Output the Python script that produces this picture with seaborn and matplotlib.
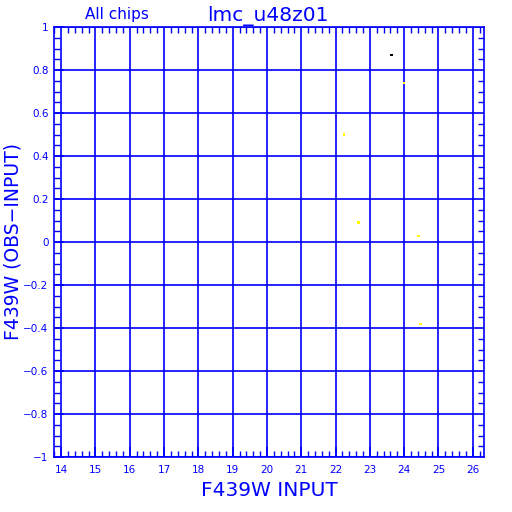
import matplotlib
matplotlib.use("Agg")
import matplotlib.pyplot as plt
import seaborn as sns
import pandas as pd
import numpy as np

# data
x_input = [23.64, 24.00, 22.25, 22.68, 24.41, 24.47]
y_diff = [0.870, 0.740, 0.499, 0.090, 0.028, -0.381]
point_group = ["black", "yellow", "yellow", "yellow", "yellow", "yellow"]

x_ticks = [14, 15, 16, 17, 18, 19, 20, 21, 22, 23, 24, 25, 26]
y_ticks = [-1, -0.8, -0.6, -0.4, -0.2, 0, 0.2, 0.4, 0.6, 0.8, 1]
y_tick_labels = ["\u22121", "\u22120.8", "\u22120.6", "\u22120.4", "\u22120.2", "0",
                 "0.2", "0.4", "0.6", "0.8", "1"]

df = pd.DataFrame({"x": x_input, "y": y_diff, "g": point_group})

sns.set_style("white")
plt.rcParams['font.family'] = ['DejaVu Sans']
blue = "#0000ff"

fig = plt.figure(figsize=(5.12, 5.12), dpi=100)
ax = fig.add_axes([54/512, 55/512, 430/512, 430/512])

sns.scatterplot(data=df, x="x", y="y", hue="g",
                palette={"black": "#000000", "yellow": "#ffff00"},
                marker="s", s=4, linewidth=0, legend=False, ax=ax, zorder=3)

ax.set_xlim(13.79, 26.33)
ax.set_ylim(-1, 1)
ax.set_xticks(x_ticks)
ax.set_xticklabels([str(t) for t in x_ticks])
ax.set_yticks(y_ticks)
ax.set_yticklabels(y_tick_labels)
ax.set_xticks(np.arange(13.8, 26.4, 0.2), minor=True)
ax.set_yticks(np.arange(-1, 1.001, 0.05), minor=True)

ax.grid(True, which="major", color=blue, linewidth=1.2)
ax.set_axisbelow(True)
for s in ax.spines.values():
    s.set_color(blue)
    s.set_linewidth(1.2)

ax.tick_params(axis="both", which="major", colors=blue, labelcolor=blue,
               labelsize=7.5, direction="in", length=7, width=1.2)
ax.tick_params(axis="both", which="minor", colors=blue,
               direction="in", length=4, width=1)
ax.tick_params(axis="x", which="both", top=True, bottom=True, pad=6)
ax.tick_params(axis="y", which="both", left=True, right=True, pad=4)
ax.tick_params(axis="y", which="major", right=False)
ax.tick_params(axis="x", which="major", top=False)

ax.set_xlabel("F439W INPUT", color=blue, fontsize=14.5, va="center")
ax.xaxis.set_label_coords(0.5, (457 - 491) / 430)
ax.set_ylabel("F439W (OBS\u2212INPUT)", color=blue, fontsize=13.5, va="center")
ax.yaxis.set_label_coords((13 - 54) / 430, 0.5)

fig.text(117/512, 1 - 15/512, "All chips", color=blue, fontsize=11,
         ha="center", va="center")
fig.text(268/512, 1 - 16/512, "lmc_u48z01", color=blue, fontsize=14.5,
         ha="center", va="center")

fig.savefig("out.png", dpi=100, facecolor="white")
